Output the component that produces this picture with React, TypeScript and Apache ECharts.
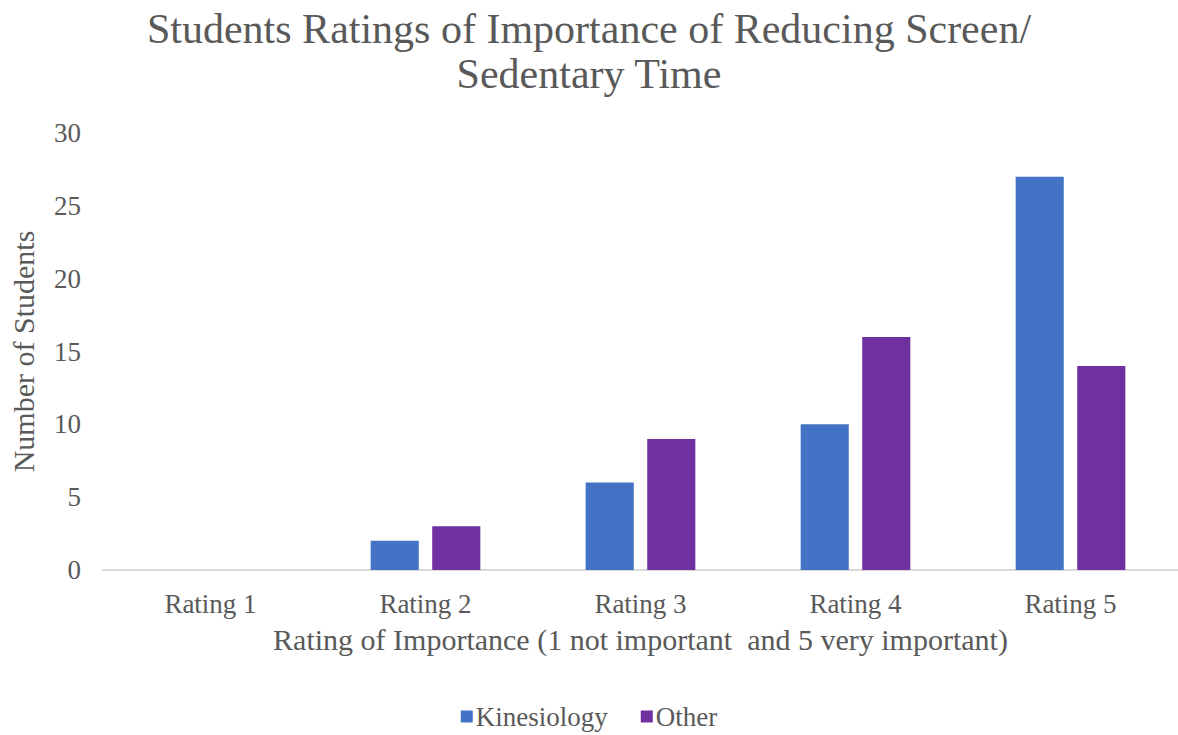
import React, { useEffect, useRef } from "react";
import * as echarts from "echarts";

const categories = ["Rating 1", "Rating 2", "Rating 3", "Rating 4", "Rating 5"];
const kinesiology = [0, 2, 6, 10, 27];
const other = [0, 3, 9, 16, 14];
const titleText = "Students Ratings of Importance of Reducing Screen/\nSedentary Time";
const xName = "Rating of Importance (1 not important  and 5 very important)";
const yName = "Number of Students";

const FONT = '"Liberation Serif", "Times New Roman", serif';
const GRAY = "#595959";

export default function App() {
  const ref = useRef<HTMLDivElement>(null);
  useEffect(() => {
    if (!ref.current) return;
    const chart = echarts.init(ref.current, undefined, { renderer: "svg" });
    chart.setOption({
      animation: false,
      textStyle: { fontFamily: FONT },
      title: {
        text: titleText,
        left: "center",
        top: 1,
        textStyle: { fontFamily: FONT, fontSize: 42, fontWeight: "normal", color: GRAY, lineHeight: 45 },
      },
      grid: { left: 97, right: -4, top: 133, bottom: 165, containLabel: false },
      legend: {
        bottom: 0,
        left: "center",
        itemWidth: 12,
        itemHeight: 12,
        itemGap: 33,
        icon: "rect",
        textStyle: { fontFamily: FONT, fontSize: 27, color: GRAY, padding: [0, 0, 0, -2] },
        data: ["Kinesiology", "Other"],
      },
      xAxis: {
        type: "category",
        data: categories,
        name: xName,
        nameLocation: "middle",
        nameGap: 54,
        nameTextStyle: { fontFamily: FONT, fontSize: 30, color: GRAY },
        axisLine: { lineStyle: { color: "#d9d9d9", width: 2 } },
        axisTick: { show: false },
        axisLabel: { fontFamily: FONT, fontSize: 27, color: GRAY, margin: 20 },
      },
      yAxis: {
        type: "value",
        min: 0,
        max: 30,
        interval: 5,
        name: yName,
        nameLocation: "middle",
        nameGap: 65,
        nameTextStyle: { fontFamily: FONT, fontSize: 30, color: GRAY },
        axisLine: { show: false },
        axisTick: { show: false },
        splitLine: { show: false },
        axisLabel: { fontFamily: FONT, fontSize: 27, color: GRAY, margin: 22 },
      },
      series: [
        {
          name: "Kinesiology",
          type: "bar",
          data: kinesiology,
          barGap: "28%",
          barCategoryGap: "49%",
          itemStyle: { color: "#4472C4" },
        },
        {
          name: "Other",
          type: "bar",
          data: other,
          itemStyle: { color: "#7030A0" },
        },
      ],
    });
    return () => chart.dispose();
  }, []);
  return <div ref={ref} style={{ width: 1178, height: 735, position: "absolute", left: 0, top: 0 }} />;
}
